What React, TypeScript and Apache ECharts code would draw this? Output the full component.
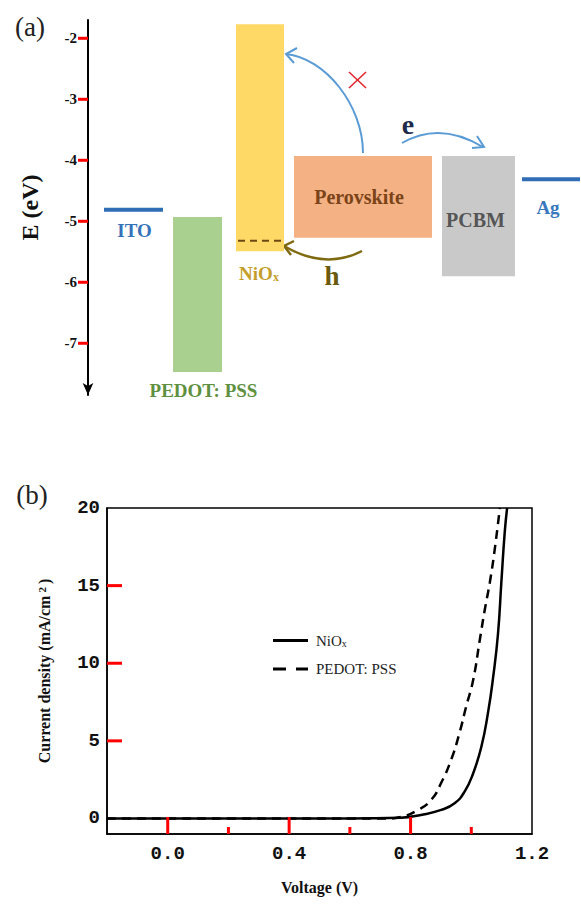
import React, { useEffect, useRef } from "react";
import * as echarts from "echarts";

// ---------- Panel (a): energy levels ----------
const layerNames = ["ITO", "PEDOT: PSS", "NiOx", "Perovskite", "PCBM", "Ag"];
const layerTop = [-4.81, -4.93, -1.77, -3.93, -3.93, -4.31];
const layerBottom = [-4.81, -7.47, -5.49, -5.27, -5.9, -4.31];
const niOxDashLevel = -5.32;
const energyTicks = [-7, -6, -5, -4, -3, -2];

// ---------- Panel (b): J-V curves ----------
const niOxV = [-0.2, 0, 0.2, 0.4, 0.6, 0.768, 0.834, 0.901, 0.945, 0.978, 1.006, 1.033, 1.055, 1.072, 1.088, 1.099, 1.11, 1.118];
const niOxJ = [0, 0, 0, 0, 0, 0.05, 0.23, 0.55, 0.98, 1.73, 2.9, 4.6, 6.8, 9.1, 11.9, 15.2, 18.4, 20.0];
const pedotV = [-0.2, 0, 0.2, 0.4, 0.6, 0.72, 0.768, 0.824, 0.868, 0.901, 0.934, 0.961, 0.983, 1.006, 1.028, 1.044, 1.061, 1.077, 1.094];
const pedotJ = [0, 0, 0, 0, 0, 0, 0.1, 0.55, 1.2, 2.3, 3.8, 5.5, 7.2, 8.9, 11.5, 13.4, 15.2, 17.3, 20.0];
const jLabels = [0, 5, 10, 15, 20];
const jTicks = [5, 10, 15];
const vLabels = [0, 0.4, 0.8, 1.2];
const vMajorTicks = [0, 0.4, 0.8];
const vMinorTicks = [0.2, 0.6, 1.0];

// ---------- layout (not data) ----------
const layerX: [number, number][] = [
  [16, 75], [85, 134], [148, 196], [206, 344], [354, 427], [434, 492],
];
const layerIsLine = [true, false, false, false, false, true];
const layerFill = ["#2f6db5", "#a9d08e", "#ffd966", "#f4b183", "#c9c9c9", "#2f6db5"];
const labelColor = ["#3672b9", "#5f9040", "#c49d2a", "#7a4318", "#555555", "#3a78bd"];
const labelPos: [number, string, number][] = [
  [1, "top", 21], [6, "bottom", 19], [-1, "bottom", 22], [-4, "mid", 0], [-3, "mid", 4], [-3, "top", 28],
];

const serif = "Liberation Serif";
const mono = "Liberation Mono";

function buildOption(): any {
  return {
    animation: false,
    backgroundColor: "#ffffff",
    grid: [
      { left: 88, top: 20, width: 493, height: 375, show: false },
      { left: 107, top: 508, width: 425, height: 326, show: true, borderColor: "#000", borderWidth: 1.5, backgroundColor: "transparent" },
    ],
    xAxis: [
      { gridIndex: 0, type: "value", min: 0, max: 493, show: false },
      {
        gridIndex: 1, type: "value", min: -0.2, max: 1.2, position: "bottom",
        axisLine: { show: true, onZero: false, lineStyle: { color: "#000", width: 1.5 } },
        axisTick: { show: false },
        axisLabel: { customValues: vLabels, formatter: (v: number) => v.toFixed(1), fontFamily: mono, fontWeight: "bold", fontSize: 19, color: "#111", margin: 10, showMaxLabel: true },
        splitLine: { show: false },
        name: "Voltage (V)", nameLocation: "middle", nameGap: 45,
        nameTextStyle: { fontFamily: serif, fontWeight: "bold", fontSize: 16, color: "#111" },
      },
    ],
    yAxis: [
      {
        gridIndex: 0, type: "value", min: -7.848, max: -1.7,
        axisLine: { show: true, symbol: ["arrow", "none"], symbolSize: [8, 12], lineStyle: { color: "#000", width: 2 } },
        axisTick: { show: false },
        axisLabel: { customValues: energyTicks, fontFamily: serif, fontWeight: "bold", fontSize: 15, color: "#111", margin: 11 },
        splitLine: { show: false },
        name: "E (eV)", nameLocation: "middle", nameGap: 46, nameRotate: 90,
        nameTextStyle: { fontFamily: serif, fontWeight: "bold", fontSize: 24, color: "#111" },
      },
      {
        gridIndex: 1, type: "value", min: -1, max: 20,
        axisLine: { show: true, onZero: false, lineStyle: { color: "#000", width: 1.5 } },
        axisTick: { show: false },
        axisLabel: { customValues: jLabels, fontFamily: mono, fontWeight: "bold", fontSize: 19, color: "#111", margin: 7, showMaxLabel: true },
        splitLine: { show: false },
        name: "{a|Current density (mA/cm}{s|2}{a|)}", nameLocation: "middle", nameGap: 55, nameRotate: 90,
        nameTextStyle: {
          rich: {
            a: { fontFamily: serif, fontWeight: "bold", fontSize: 16, color: "#111" },
            s: { fontFamily: serif, fontWeight: "bold", fontSize: 11, color: "#111", verticalAlign: "top", padding: [0, 3, 0, 3] },
          },
        },
      },
    ],
    legend: {
      orient: "vertical", left: 268, top: 628, itemWidth: 35, itemHeight: 3, itemGap: 13,
      data: [
        { name: "NiOx", icon: "rect" },
        { name: "PEDOT: PSS", icon: "path://M0,0h13v3h-13z M23,0h12v3h-12z" },
      ],
      formatter: (name: string) => (name === "NiOx" ? "{a|NiO}{b|x}" : "{a|" + name + "}"),
      textStyle: {
        padding: [0, 0, 0, 3],
        rich: {
          a: { fontFamily: serif, fontSize: 15, color: "#222" },
          b: { fontFamily: serif, fontSize: 10, color: "#222", verticalAlign: "bottom", padding: [6, 0, 0, 0] },
        },
      },
    },
    series: [
      {
        type: "custom", xAxisIndex: 0, yAxisIndex: 0, silent: true,
        encode: { x: [0, 2], y: [1, 3] },
        data: layerNames.map((_, i) => [layerX[i][0], layerTop[i], layerX[i][1], layerBottom[i]]),
        renderItem: (params: any, api: any) => {
          const i = params.dataIndex;
          const p0 = api.coord([api.value(0), api.value(1)]);
          const p1 = api.coord([api.value(2), api.value(3)]);
          const children: any[] = [];
          if (layerIsLine[i]) {
            children.push({ type: "line", shape: { x1: p0[0], y1: p0[1], x2: p1[0], y2: p0[1] }, style: { stroke: layerFill[i], lineWidth: 4 } });
          } else {
            children.push({ type: "rect", shape: { x: p0[0], y: p0[1], width: p1[0] - p0[0], height: p1[1] - p0[1] }, style: { fill: layerFill[i] } });
          }
          if (layerNames[i] === "NiOx") {
            const yd = api.coord([0, niOxDashLevel])[1];
            children.push({ type: "line", shape: { x1: p0[0] + 2, y1: yd, x2: p1[0] - 2, y2: yd }, style: { stroke: "#6b4a12", lineWidth: 2, lineDash: [7, 5] } });
          }
          const [dx, anchor, dy] = labelPos[i];
          const cx = (p0[0] + p1[0]) / 2 + dx;
          const cy = anchor === "top" ? p0[1] + dy : anchor === "bottom" ? p1[1] + dy : (p0[1] + p1[1]) / 2 + dy;
          const isNiOx = layerNames[i] === "NiOx";
          children.push({
            type: "text", x: cx, y: cy,
            style: {
              text: isNiOx ? "{a|NiO}{b|x}" : layerNames[i],
              fill: labelColor[i], fontFamily: serif, fontWeight: "bold", fontSize: i === 3 || i === 4 ? 20 : 19,
              align: "center", verticalAlign: "middle",
              rich: isNiOx ? {
                a: { fontFamily: serif, fontWeight: "bold", fontSize: 19, fill: labelColor[i], color: labelColor[i] },
                b: { fontFamily: serif, fontWeight: "bold", fontSize: 12, fill: labelColor[i], color: labelColor[i], verticalAlign: "bottom", padding: [8, 0, 0, 0] },
              } : undefined,
            },
          });
          return { type: "group", children };
        },
      },
      {
        name: "NiOx", type: "line", xAxisIndex: 1, yAxisIndex: 1,
        data: niOxV.map((v, i) => [v, niOxJ[i]]),
        symbol: "none", showSymbol: false, smooth: 0.5, clip: true,
        lineStyle: { color: "#000", width: 2.5 }, itemStyle: { color: "#000" },
      },
      {
        name: "PEDOT: PSS", type: "line", xAxisIndex: 1, yAxisIndex: 1,
        data: pedotV.map((v, i) => [v, pedotJ[i]]),
        symbol: "none", showSymbol: false, smooth: 0.5, clip: true,
        lineStyle: { color: "#000", width: 2.5, type: [9, 6] }, itemStyle: { color: "#000" },
      },
    ],
    graphic: [
      { id: "lblA", type: "text", x: 30, y: 27, style: { text: "(a)", fontFamily: serif, fontSize: 27, fill: "#222", align: "center", verticalAlign: "middle" } },
      { id: "lblB", type: "text", x: 32, y: 495, style: { text: "(b)", fontFamily: serif, fontSize: 27, fill: "#222", align: "center", verticalAlign: "middle" } },
      { id: "arcUp", type: "bezierCurve", shape: { x1: 363, y1: 153, x2: 286, y2: 54, cpx1: 363, cpy1: 105, cpx2: 325, cpy2: 58 }, style: { stroke: "#5b9bd5", lineWidth: 2, fill: null } },
      { id: "arcUpHead", type: "polyline", shape: { points: [[297, 48], [286, 54], [294, 63]] }, style: { stroke: "#5b9bd5", lineWidth: 2, fill: null } },
      { id: "x1", type: "line", shape: { x1: 349, y1: 72, x2: 366, y2: 88 }, style: { stroke: "#e3262f", lineWidth: 1.6 } },
      { id: "x2", type: "line", shape: { x1: 366, y1: 72, x2: 349, y2: 88 }, style: { stroke: "#e3262f", lineWidth: 1.6 } },
      { id: "arcE", type: "bezierCurve", shape: { x1: 402, y1: 143, x2: 483, y2: 147, cpx1: 440, cpy1: 121 }, style: { stroke: "#5b9bd5", lineWidth: 2, fill: null } },
      { id: "arcEHead", type: "polyline", shape: { points: [[477, 136], [484, 147], [472, 148]] }, style: { stroke: "#5b9bd5", lineWidth: 2, fill: null } },
      { id: "txtE", type: "text", x: 408, y: 124, style: { text: "e", fontFamily: serif, fontWeight: "bold", fontSize: 28, fill: "#1f2a4a", align: "center", verticalAlign: "middle" } },
      { id: "arcH", type: "bezierCurve", shape: { x1: 362, y1: 251, x2: 284, y2: 246, cpx1: 325, cpy1: 270 }, style: { stroke: "#7f6a10", lineWidth: 2.5, fill: null } },
      { id: "arcHHead", type: "polyline", shape: { points: [[294, 241], [284, 246], [291, 255]] }, style: { stroke: "#7f6a10", lineWidth: 2.5, fill: null } },
      { id: "txtH", type: "text", x: 332, y: 276, style: { text: "h", fontFamily: serif, fontWeight: "bold", fontSize: 27, fill: "#6b5a0c", align: "center", verticalAlign: "middle" } },
    ],
  };
}

// DIAGNOSTIC colour: red, to check that tick marks are drawn at all
const TICK_COLOR = "#ff0000";

function tickGraphics(chart: any): any[] {
  const out: any[] = [];
  const bar = (id: string, x: number, y: number, w: number, h: number) =>
    out.push({ id, type: "rect", z: 100, shape: { x, y, width: w, height: h }, style: { fill: TICK_COLOR } });
  energyTicks.forEach((e, k) => {
    const c = chart.convertToPixel({ xAxisIndex: 0, yAxisIndex: 0 }, [0, e]);
    bar("tA" + k, c[0] - 10, c[1] - 1.5, 10, 3);
  });
  jTicks.forEach((j, k) => {
    const c = chart.convertToPixel({ xAxisIndex: 1, yAxisIndex: 1 }, [-0.2, j]);
    bar("tJ" + k, c[0], c[1] - 1.5, 15, 3);
  });
  vMajorTicks.forEach((v, k) => {
    const c = chart.convertToPixel({ xAxisIndex: 1, yAxisIndex: 1 }, [v, -1]);
    bar("tV" + k, c[0] - 1.5, c[1] - 17, 3, 17);
  });
  vMinorTicks.forEach((v, k) => {
    const c = chart.convertToPixel({ xAxisIndex: 1, yAxisIndex: 1 }, [v, -1]);
    bar("tm" + k, c[0] - 1.5, c[1] - 7, 3, 7);
  });
  return out;
}

export default function App() {
  const ref = useRef<HTMLDivElement>(null);
  useEffect(() => {
    if (!ref.current) return;
    const chart = echarts.init(ref.current, null, { renderer: "svg" });
    chart.setOption(buildOption());
    chart.setOption({ graphic: tickGraphics(chart) });
    return () => chart.dispose();
  }, []);
  return (
    <div
      ref={ref}
      style={{ position: "fixed", left: 0, top: 0, width: 581, height: 906, background: "#fff" }}
    />
  );
}
